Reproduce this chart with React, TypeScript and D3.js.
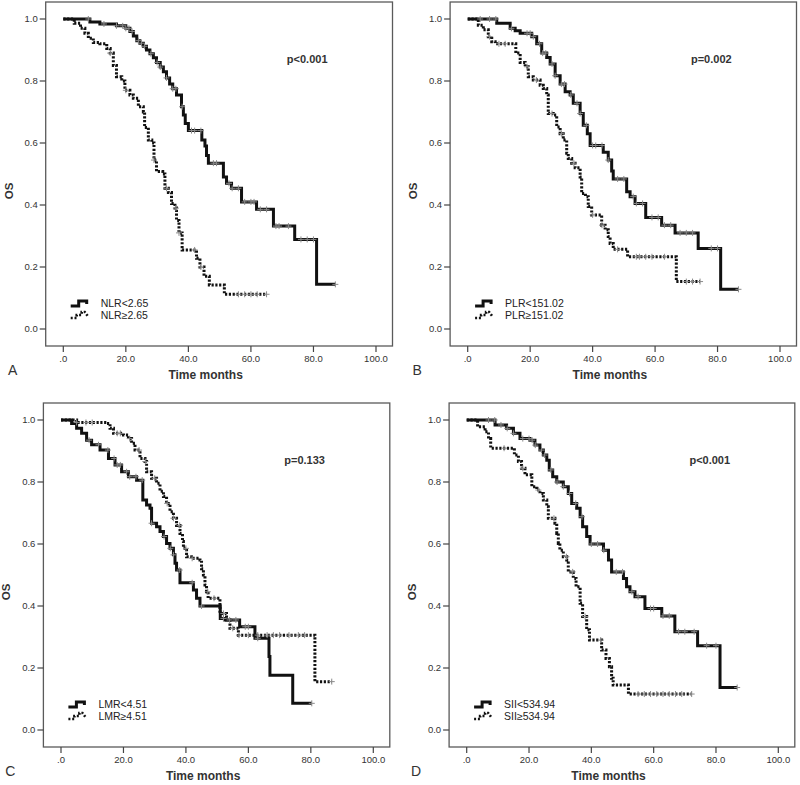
import React from "react";
import * as d3 from "d3";

type Pt = [number, number];

// ---------- data ----------
const xTicks = [0, 20, 40, 60, 80, 100];
const xTickLabels = [".0", "20.0", "40.0", "60.0", "80.0", "100.0"];
const yTicks = [0, 0.2, 0.4, 0.6, 0.8, 1.0];
const yTickLabels = ["0.0", "0.2", "0.4", "0.6", "0.8", "1.0"];

const panelLetters = ["A", "B", "C", "D"];
const pValues = ["p<0.001", "p=0.002", "p=0.133", "p<0.001"];
const lowLabels = ["NLR<2.65", "PLR<151.02", "LMR<4.51", "SII<534.94"];
const highLabels = ["NLR\u22652.65", "PLR\u2265151.02", "LMR\u22654.51", "SII\u2265534.94"];

const nlrLow: Pt[] = [[0,1],[8.5,0.99],[11.7,0.984],[17,0.978],[20,0.97],[21.3,0.96],[22.4,0.945],[23.5,0.93],[24.5,0.922],[25.6,0.912],[26.6,0.9],[27.7,0.888],[28.8,0.875],[29.8,0.86],[31,0.845],[32,0.83],[33,0.81],[34,0.79],[35,0.775],[36.2,0.755],[37.8,0.717],[38.4,0.69],[39,0.663],[40,0.64],[44.3,0.61],[45.3,0.59],[45.8,0.56],[46.4,0.535],[51.2,0.49],[52.2,0.47],[53.8,0.454],[57,0.41],[61.8,0.386],[67.2,0.332],[74,0.289],[81,0.144]];
const nlrLowEnd = 87;
const nlrHigh: Pt[] = [[0,1],[3.5,0.986],[5.5,0.97],[6.9,0.954],[8,0.938],[9.6,0.924],[11.7,0.92],[13.9,0.905],[15,0.89],[16,0.85],[17,0.814],[18.7,0.8],[19.7,0.77],[21.3,0.755],[22.4,0.744],[24,0.717],[25.6,0.7],[26,0.65],[27.2,0.61],[28.3,0.6],[29,0.545],[29.8,0.508],[31.8,0.5],[32.5,0.454],[33.6,0.44],[34.6,0.405],[35.7,0.39],[36.2,0.35],[37,0.31],[38,0.255],[42.6,0.228],[43.7,0.2],[45,0.17],[46.7,0.142],[51.5,0.112]];
const nlrHighEnd = 65;

const plrLow: Pt[] = [[0,1],[9.3,0.986],[13.6,0.97],[15.2,0.962],[16.8,0.954],[20.5,0.943],[22.1,0.92],[23.7,0.89],[25.3,0.876],[26.4,0.855],[28,0.817],[29.6,0.79],[31.2,0.765],[32.8,0.755],[33.8,0.728],[36,0.695],[37,0.657],[38.3,0.63],[39.2,0.592],[43.4,0.57],[45,0.545],[46.1,0.51],[46.6,0.484],[50.9,0.443],[52,0.427],[53.6,0.405],[57,0.36],[62.1,0.335],[66.4,0.31],[73.8,0.26],[81,0.128]];
const plrLowEnd = 86.7;
const plrHigh: Pt[] = [[0,1],[3.4,0.98],[5,0.965],[6.6,0.943],[7.7,0.927],[8.8,0.92],[15.4,0.89],[16.8,0.86],[18.4,0.846],[19.4,0.814],[21,0.803],[23.2,0.786],[24.2,0.776],[25.3,0.755],[25.8,0.695],[27.4,0.69],[28.5,0.652],[29.6,0.63],[30.6,0.61],[31.7,0.567],[32.2,0.55],[33.3,0.535],[34.4,0.52],[36,0.49],[36.5,0.437],[37.7,0.427],[38.6,0.395],[39.7,0.368],[42.9,0.335],[44,0.32],[45,0.298],[45.6,0.276],[46.6,0.257],[51.2,0.233],[66.8,0.153]];
const plrHighEnd = 74.4;

const lmrLow: Pt[] = [[0,1],[3.4,0.989],[5,0.973],[6.6,0.957],[8.2,0.935],[9.8,0.92],[12.5,0.903],[15.2,0.876],[17.3,0.855],[19.4,0.833],[21.6,0.817],[24.2,0.806],[26.2,0.742],[27.4,0.726],[28.5,0.715],[29,0.667],[30.6,0.656],[31.7,0.64],[32.8,0.624],[33.8,0.602],[34.9,0.586],[36,0.565],[36.5,0.538],[37,0.516],[38.1,0.475],[42.4,0.452],[43.4,0.425],[44.5,0.4],[51,0.36],[52.5,0.355],[57.2,0.333],[62.1,0.296],[66.6,0.237],[66.9,0.177],[74.2,0.086]];
const lmrLowEnd = 80.3;
const lmrHigh: Pt[] = [[0,1],[5,0.992],[14.6,0.989],[15.7,0.973],[16.8,0.957],[20,0.952],[21.6,0.94],[22.6,0.925],[23.7,0.903],[25.3,0.876],[26.9,0.866],[27.4,0.833],[29,0.812],[30.6,0.796],[31.7,0.77],[32.8,0.753],[33.8,0.731],[34.9,0.704],[36,0.683],[37,0.66],[38.1,0.634],[38.9,0.608],[39.2,0.586],[40.2,0.559],[41.8,0.554],[44.5,0.548],[45,0.52],[45.6,0.5],[46.1,0.468],[46.6,0.446],[47.1,0.425],[50.9,0.376],[53,0.355],[54.1,0.328],[56.8,0.306],[81.3,0.156]];
const lmrHighEnd = 86.7;

const siiLow: Pt[] = [[0,1],[9.1,0.984],[12.8,0.973],[15,0.957],[17.1,0.94],[20.3,0.935],[21.9,0.919],[23.5,0.903],[24.6,0.887],[25.7,0.87],[26.5,0.839],[27.6,0.817],[28.9,0.8],[31,0.785],[32.6,0.763],[33.7,0.731],[35.3,0.715],[36.4,0.688],[37.2,0.656],[38.5,0.624],[39.6,0.6],[43.9,0.58],[45.5,0.548],[46.5,0.51],[50.3,0.489],[51.3,0.462],[52.4,0.446],[54,0.43],[57.2,0.392],[62.6,0.368],[66.8,0.317],[74.1,0.272],[81.3,0.137]];
const siiLowEnd = 86.8;
const siiHigh: Pt[] = [[0,1],[3.5,0.978],[5.9,0.962],[7,0.94],[7.7,0.909],[15.3,0.887],[16.6,0.866],[17.6,0.844],[18.7,0.823],[20.9,0.785],[22.5,0.774],[23.5,0.763],[24.6,0.742],[25.7,0.72],[26.2,0.683],[28.3,0.667],[28.9,0.634],[29.4,0.602],[29.9,0.58],[31,0.559],[32.1,0.548],[32.6,0.51],[34.2,0.489],[35.1,0.462],[36.4,0.409],[37.2,0.366],[38.5,0.323],[39.4,0.29],[43.3,0.258],[44.7,0.231],[45.8,0.204],[46.5,0.167],[47,0.145],[51.9,0.116]];
const siiHighEnd = 72.2;

const nlrLowCens = [8,13,17,19,20,21,22,24,25,26,28,30,31,33,35,36,38,41,42,44,48,49,53,54,56,58,60,61,63,65,68,69,72,76,78,80,87];
const nlrHighCens = [15,20,29,33,36,37,42,44,56,58,60,62,65];
const plrLowCens = [4,7,9,14,19,20,21,23,24,25,27,28,30,31,33,35,36,38,40,41,43,45,48,50,53,54,56,59,61,63,65,68,70,72,78,80,86.7];
const plrHighCens = [7,10,12,19,22,27,30,34,40,43,48,54,55,57,59,63,70,72,74.4];
const lmrLowCens = [9,12,15,17,18,19,21,22,24,26,29,33,35,36,38,42,45,52,54,56,59,60,63,80.3];
const lmrHighCens = [5,8,10,18,19,22,25,27,30,34,36,38,40,42,47,49,52,55,57,60,63,66,68,70,73,76,78,86.7];
const siiLowCens = [7,9,11,13,15,18,20,21,22,24,25,27,29,31,33,35,37,40,42,44,48,50,53,55,59,60,63,65,68,70,73,77,80,86.8];
const siiHighCens = [12,18,23,28,32,34,38,43,55,57,59,61,63,65,67,69,72.2];

// ---------- layout ----------
const panels = [
  { x0: 63.3, x1: 376, y0: 329, y1: 19, low: nlrLow, lowEnd: nlrLowEnd, high: nlrHigh, highEnd: nlrHighEnd, lowC: nlrLowCens, highC: nlrHighCens },
  { x0: 467.7, x1: 780, y0: 329, y1: 19, low: plrLow, lowEnd: plrLowEnd, high: plrHigh, highEnd: plrHighEnd, lowC: plrLowCens, highC: plrHighCens },
  { x0: 61, x1: 373.3, y0: 730, y1: 420, low: lmrLow, lowEnd: lmrLowEnd, high: lmrHigh, highEnd: lmrHighEnd, lowC: lmrLowCens, highC: lmrHighCens },
  { x0: 466.7, x1: 778.3, y0: 730, y1: 420, low: siiLow, lowEnd: siiLowEnd, high: siiHigh, highEnd: siiHighEnd, lowC: siiLowCens, highC: siiHighCens },
];

const FONT = "'Liberation Sans', Arial, sans-serif";

function stepPath(steps: Pt[], end: number, xs: any, ys: any) {
  let d = `M${xs(steps[0][0])},${ys(steps[0][1])}`;
  for (let i = 1; i < steps.length; i++) {
    d += `H${xs(steps[i][0])}V${ys(steps[i][1])}`;
  }
  d += `H${xs(end)}`;
  return d;
}

function survAt(steps: Pt[], t: number) {
  let s = steps[0][1];
  for (const p of steps) if (p[0] <= t) s = p[1];
  return s;
}

function Panel({ p, i }: { p: any; i: number }) {
  const xs = d3.scaleLinear().domain([0, 100]).range([p.x0, p.x1]);
  const ys = d3.scaleLinear().domain([0, 1]).range([p.y0, p.y1]);
  const fl = p.x0 - 17.6;
  const fr = p.x1 + 16.5;
  const ft = p.y1 - 17;
  const fb = p.y0 + 17;
  const xm = (p.x0 + p.x1) / 2;
  const ym = (p.y0 + p.y1) / 2;
  const cross = (t: number, steps: Pt[], key: string) => {
    const cx = xs(t);
    const cy = ys(survAt(steps, t));
    return (
      <path key={key} d={`M${cx - 3},${cy}H${cx + 3}M${cx},${cy - 3}V${cy + 3}`} stroke="#8a8a8a" strokeWidth={1} fill="none" />
    );
  };
  const lgX = fl + 25;
  const lgY1 = p.y0 - 26;
  const lgY2 = p.y0 - 14;
  return (
    <g>
      <rect x={fl} y={ft} width={fr - fl} height={fb - ft} fill="white" stroke="#5a5a5a" strokeWidth={1.3} />
      {yTicks.map((v, k) => (
        <g key={"y" + k}>
          <line x1={fl - 6} x2={fl} y1={ys(v)} y2={ys(v)} stroke="#444" strokeWidth={1.2} />
          <text x={fl - 8} y={ys(v) + 3.3} textAnchor="end" fontSize={9.5} fill="#333" fontFamily={FONT}>{yTickLabels[k]}</text>
        </g>
      ))}
      {xTicks.map((v, k) => (
        <g key={"x" + k}>
          <line x1={xs(v)} x2={xs(v)} y1={fb} y2={fb + 6} stroke="#444" strokeWidth={1.2} />
          <text x={xs(v)} y={fb + 16} textAnchor="middle" fontSize={9.5} fill="#333" fontFamily={FONT}>{xTickLabels[k]}</text>
        </g>
      ))}
      <text x={xm - 14} y={fb + 33} textAnchor="middle" fontSize={12} fontWeight="bold" fill="#333" fontFamily={FONT}>Time months</text>
      <text transform={`translate(${fl - 33},${ym + 17}) rotate(-90)`} textAnchor="middle" fontSize={11.5} fontWeight="bold" fill="#333" fontFamily={FONT}>OS</text>
      <text x={fl - 33} y={fb + 29} textAnchor="middle" fontSize={14} fill="#333" fontFamily={FONT}>{panelLetters[i]}</text>
      <text x={xs(78)} y={ys(0.87) + 4} textAnchor="middle" fontSize={11} fontWeight="bold" fill="#333" fontFamily={FONT}>{pValues[i]}</text>
      <path d={stepPath(p.high, p.highEnd, xs, ys)} fill="none" stroke="#111" strokeWidth={3} strokeDasharray="2.2 1.6" />
      <path d={stepPath(p.low, p.lowEnd, xs, ys)} fill="none" stroke="#111" strokeWidth={3} />
      {p.lowC.map((t: number, k: number) => cross(t, p.low, "lc" + k))}
      {p.highC.map((t: number, k: number) => cross(t, p.high, "hc" + k))}
      <path d={`M${lgX},${lgY1 + 3}H${lgX + 8}V${lgY1 - 2}H${lgX + 16}V${lgY1 + 1}`} fill="none" stroke="#111" strokeWidth={3} />
      <path d={`M${lgX},${lgY2 + 3}H${lgX + 6}V${lgY2}H${lgX + 11}V${lgY2 - 3}H${lgX + 14}L${lgX + 17},${lgY2 + 1}`} fill="none" stroke="#111" strokeWidth={2.6} strokeDasharray="2 1.8" />
      <text x={fl + 55} y={lgY1 + 4} fontSize={10.5} fill="#222" fontFamily={FONT}>{lowLabels[i]}</text>
      <text x={fl + 55} y={lgY2 + 4} fontSize={10.5} fill="#222" fontFamily={FONT}>{highLabels[i]}</text>
    </g>
  );
}

export default function App() {
  return (
    <svg width={800} height={785} style={{ position: "absolute", left: 0, top: 0, background: "white" }}>
      <rect x={0} y={0} width={800} height={785} fill="white" />
      {panels.map((p, i) => (
        <Panel key={i} p={p} i={i} />
      ))}
    </svg>
  );
}
